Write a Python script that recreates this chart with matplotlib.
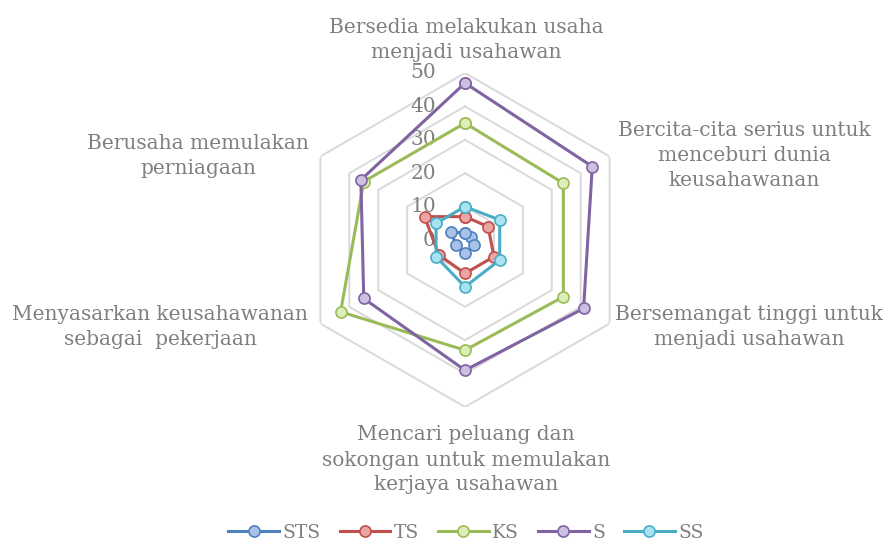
import numpy as np
import matplotlib
matplotlib.use('Agg')
import matplotlib.pyplot as plt

# kategori (searah jam dari atas)
kategori = ['Bersedia melakukan usaha\nmenjadi usahawan',
            'Bercita-cita serius untuk\nmenceburi dunia\nkeusahawanan',
            'Bersemangat tinggi untuk\nmenjadi usahawan',
            'Mencari peluang dan\nsokongan untuk memulakan\nkerjaya usahawan',
            'Menyasarkan keusahawanan\nsebagai  pekerjaan',
            'Berusaha memulakan\nperniagaan']

siri = ['STS', 'TS', 'KS', 'S', 'SS']
STS = [2, 2, 3, 4, 3, 5]
TS = [7, 8, 10, 10, 9, 14]
KS = [35, 34, 34, 33, 43, 35]
S = [47, 44, 41, 39, 35, 36]
SS = [10, 12, 12, 14, 10, 10]
nilai = [STS, TS, KS, S, SS]
ticks = [0, 10, 20, 30, 40, 50]

warna = ['#4F81BD', '#C0504D', '#9BBB59', '#8064A2', '#4BACC6']
isi = ['#A9C2E8', '#EBA6A4', '#DDEFB8', '#CDBFE0', '#A9E3F2']
kelabu = '#7F7F7F'
fon = 'DejaVu Serif'

W, H = 885, 541
fig = plt.figure(figsize=(W / 100, H / 100), dpi=100)
cx, cy, R = 465, 240, 167
ax = fig.add_axes([(cx - R) / W, (H - cy - R) / H, 2 * R / W, 2 * R / H],
                  projection='polar')
ax.set_theta_zero_location('N')
ax.set_theta_direction(-1)
ax.set_ylim(0, 50)
ax.axis('off')

n = len(kategori)
sudut = np.linspace(0, 2 * np.pi, n, endpoint=False)
tutup = np.append(sudut, sudut[0])

# garis grid heksagon (tiada jejari)
for t in ticks[1:]:
    ax.plot(tutup, [t] * (n + 1), color='#D9D9D9', lw=1.4, zorder=1)

# label paksi jejari
for t in ticks:
    ax.annotate(str(t), xy=(0, t), xytext=(-21, 0), textcoords='offset points',
                ha='right', va='center', fontsize=14.5, color=kelabu,
                family=fon, zorder=2)

for nama, v, c, f in zip(siri, nilai, warna, isi):
    ax.plot(tutup, v + v[:1], color=c, lw=2.2, marker='o', markersize=8,
            markerfacecolor=f, markeredgecolor=c, markeredgewidth=1.2,
            label=nama, zorder=3)

# label kategori
pos = [(466, 40), (744, 155), (749, 327), (466, 460), (160, 327), (198, 156)]
for teks, (x, y) in zip(kategori, pos):
    fig.text(x / W, 1 - y / H, teks, ha='center', va='center', fontsize=14.5,
             color=kelabu, family=fon, multialignment='center',
             linespacing=1.4)

leg = fig.legend(loc='center', bbox_to_anchor=(466 / W, 1 - 533 / H), ncol=5,
                 frameon=False, handlelength=2.7, handletextpad=0.2,
                 columnspacing=1.0, prop={'family': fon, 'size': 13.5})
for t in leg.get_texts():
    t.set_color(kelabu)

fig.savefig('out.png', dpi=100)
